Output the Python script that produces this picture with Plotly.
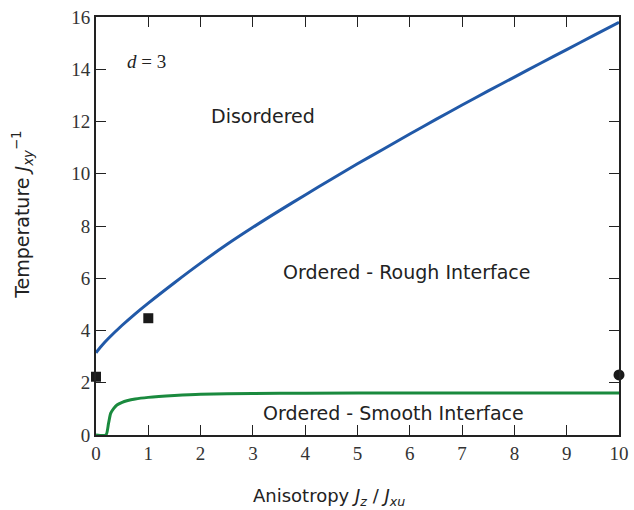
import plotly.graph_objects as go

# Upper transition (disordered / ordered-rough)
rough_x = [0, 0.1, 0.25, 0.5, 0.75, 1.0, 1.5, 2.0, 2.5, 3.0, 3.5, 4.0, 4.5, 5.0, 5.5, 6.0, 6.5, 7.0, 7.5, 8.0, 8.5, 9.0, 9.5, 10.0]
rough_y = [3.15, 3.4, 3.72, 4.2, 4.64, 5.05, 5.83, 6.58, 7.29, 7.95, 8.58, 9.19, 9.79, 10.38, 10.95, 11.52, 12.08, 12.63, 13.17, 13.7, 14.23, 14.75, 15.28, 15.8]

# Lower transition (rough / smooth interface)
smooth_x = [0, 0.19, 0.24, 0.28, 0.34, 0.40, 0.5, 0.59, 0.75, 1.0, 1.5, 2.0, 3.0, 4.0, 6.0, 8.0, 10.0]
smooth_y = [0, 0, 0.45, 0.83, 1.02, 1.15, 1.25, 1.31, 1.38, 1.44, 1.51, 1.56, 1.59, 1.6, 1.61, 1.61, 1.61]

sq_x = [0, 1]
sq_y = [2.23, 4.47]
circ_x = [10]
circ_y = [2.30]

x_ticks = list(range(0, 11))
y_ticks = list(range(0, 17, 2))

SERIF = "Liberation Serif"
SANS = "DejaVu Sans"

fig = go.Figure()
fig.add_trace(go.Scatter(x=rough_x, y=rough_y, mode="lines", line=dict(color="#2159a8", width=3, shape="spline", smoothing=0.8), showlegend=False))
fig.add_trace(go.Scatter(x=smooth_x, y=smooth_y, mode="lines", line=dict(color="#1a8a3e", width=3, shape="spline", smoothing=0.6), showlegend=False))
fig.add_trace(go.Scatter(x=sq_x, y=sq_y, mode="markers", marker=dict(symbol="square", size=10, color="#1a1a1a"), showlegend=False, cliponaxis=False))
fig.add_trace(go.Scatter(x=circ_x, y=circ_y, mode="markers", marker=dict(symbol="circle", size=11, color="#1a1a1a"), showlegend=False, cliponaxis=False))

label_font = dict(family=SANS, size=19, color="#222222")
fig.add_annotation(x=3.2, y=12.2, text="Disordered", showarrow=False, font=label_font)
fig.add_annotation(x=5.93, y=6.24, text="Ordered - Rough Interface", showarrow=False, font=label_font)
fig.add_annotation(x=5.68, y=0.84, text="Ordered - Smooth Interface", showarrow=False, font=label_font)
fig.add_annotation(x=0.97, y=14.3, text="<i>d</i> = 3", showarrow=False, font=dict(family=SERIF, size=19, color="#222222"))

# Axis titles placed as annotations (paper coords) to match the reference offsets
fig.add_annotation(xref="paper", yref="paper", x=0.4455, y=-0.148, xanchor="center", yanchor="middle",
                   text="Anisotropy <i>J<sub>z</sub></i> / <i>J<sub>xu</sub></i>", showarrow=False,
                   font=dict(family=SANS, size=18, color="#222222"))
fig.add_annotation(xref="paper", yref="paper", x=-0.142, y=0.526, xanchor="center", yanchor="middle", textangle=-90,
                   text="Temperature <i>J</i><sub><i>xy</i></sub><sup>−1</sup>", showarrow=False,
                   font=dict(family=SANS, size=19, color="#222222"))

axis_common = dict(showgrid=False, zeroline=False, showline=True, linecolor="#222222", linewidth=2,
                   mirror="ticks", ticks="inside", ticklen=10, tickwidth=1.3, tickcolor="#222222",
                   automargin=False,
                   tickfont=dict(family=SERIF, size=19, color="#333333"))

fig.update_xaxes(range=[0, 10], tickvals=x_ticks, ticktext=[str(v) for v in x_ticks], **axis_common)
fig.update_yaxes(range=[0, 16], tickvals=y_ticks, ticktext=[str(v) for v in y_ticks], **axis_common)

fig.update_layout(width=634, height=510, margin=dict(l=96, r=15, t=17, b=75),
                  plot_bgcolor="white", paper_bgcolor="white")

fig.write_html("out.html", config={"displayModeBar": False},
               post_script="document.body.style.margin='0';document.body.style.padding='0';")
